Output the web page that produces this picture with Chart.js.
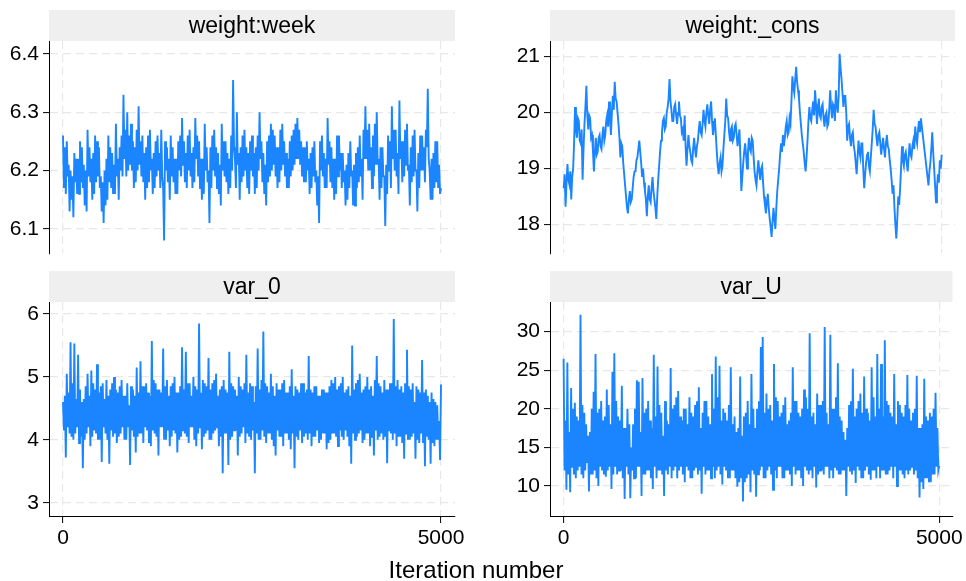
<!DOCTYPE html>
<html>
<head>
<meta charset="utf-8">
<script src="https://cdn.jsdelivr.net/npm/chart.js@4.4.1/dist/chart.umd.min.js"></script>
<style>
html, body { margin: 0; padding: 0; background: #fff; }
body { width: 966px; height: 581px; position: relative; overflow: hidden; font-family: "Liberation Sans", Arial, sans-serif; }
.panel { position: absolute; }
#xtitle { position: absolute; left: 0; width: 952px; top: 558px; text-align: center; font-size: 24px; line-height: 24px; color: #000; }
</style>
</head>
<body>
<div class="panel" style="left:0;top:0;width:480px;height:270px"><canvas id="c1"></canvas></div>
<div class="panel" style="left:500px;top:0;width:466px;height:270px"><canvas id="c2"></canvas></div>
<div class="panel" style="left:0;top:260px;width:480px;height:321px"><canvas id="c3"></canvas></div>
<div class="panel" style="left:500px;top:260px;width:466px;height:321px"><canvas id="c4"></canvas></div>
<div id="xtitle">Iteration number</div>
<script>
// MCMC trace values, evenly spaced over 5000 iterations
const lastIteration = 5000;
const xTicks = [0, 5000];

const weightWeek = [
    6.26, 6.17, 6.24, 6.16, 6.25, 6.19, 6.21, 6.13, 6.2, 6.15, 6.19, 6.12, 6.23, 6.18, 6.22, 6.16, 6.22, 6.16, 6.25, 6.18,
    6.24, 6.17, 6.21, 6.14, 6.2, 6.13, 6.27, 6.19, 6.24, 6.18, 6.22, 6.15, 6.23, 6.16, 6.26, 6.18, 6.25, 6.19, 6.24, 6.17,
    6.19, 6.13, 6.18, 6.11, 6.2, 6.14, 6.22, 6.15, 6.26, 6.18, 6.24, 6.17, 6.23, 6.16, 6.21, 6.16, 6.28, 6.19, 6.22, 6.15,
    6.24, 6.2, 6.26, 6.19, 6.33, 6.22, 6.27, 6.19, 6.3, 6.2, 6.26, 6.21, 6.28, 6.2, 6.25, 6.17, 6.24, 6.18, 6.27, 6.2,
    6.31, 6.21, 6.25, 6.19, 6.26, 6.18, 6.23, 6.15, 6.24, 6.17, 6.26, 6.18, 6.27, 6.2, 6.22, 6.16, 6.23, 6.17, 6.25, 6.19,
    6.26, 6.2, 6.23, 6.17, 6.27, 6.19, 6.17, 6.08, 6.25, 6.2, 6.24, 6.18, 6.22, 6.15, 6.26, 6.19, 6.24, 6.18, 6.22, 6.16,
    6.22, 6.16, 6.25, 6.2, 6.26, 6.19, 6.29, 6.21, 6.25, 6.18, 6.23, 6.17, 6.26, 6.2, 6.27, 6.19, 6.23, 6.17, 6.24, 6.18,
    6.29, 6.22, 6.26, 6.19, 6.25, 6.17, 6.22, 6.15, 6.22, 6.16, 6.28, 6.2, 6.24, 6.18, 6.2, 6.11, 6.24, 6.17, 6.26, 6.2,
    6.27, 6.19, 6.24, 6.17, 6.23, 6.16, 6.21, 6.14, 6.28, 6.2, 6.25, 6.19, 6.25, 6.18, 6.23, 6.16, 6.22, 6.17, 6.26, 6.2,
    6.355, 6.24, 6.22, 6.17, 6.3, 6.21, 6.23, 6.15, 6.24, 6.18, 6.26, 6.19, 6.27, 6.2, 6.24, 6.17, 6.23, 6.16, 6.25, 6.2,
    6.26, 6.19, 6.23, 6.16, 6.24, 6.17, 6.26, 6.2, 6.3, 6.22, 6.25, 6.18, 6.23, 6.16, 6.21, 6.14, 6.25, 6.18, 6.26, 6.19,
    6.28, 6.2, 6.27, 6.21, 6.26, 6.19, 6.24, 6.17, 6.24, 6.18, 6.27, 6.2, 6.28, 6.21, 6.25, 6.19, 6.23, 6.17, 6.22, 6.17,
    6.25, 6.19, 6.26, 6.2, 6.27, 6.21, 6.28, 6.22, 6.29, 6.22, 6.27, 6.21, 6.25, 6.19, 6.24, 6.18, 6.24, 6.18, 6.25, 6.2,
    6.22, 6.16, 6.23, 6.17, 6.24, 6.19, 6.25, 6.18, 6.2, 6.14, 6.19, 6.11, 6.25, 6.2, 6.26, 6.19, 6.23, 6.17, 6.22, 6.17,
    6.29, 6.21, 6.25, 6.18, 6.24, 6.17, 6.22, 6.15, 6.22, 6.16, 6.26, 6.19, 6.26, 6.2, 6.23, 6.17, 6.23, 6.18, 6.2, 6.14,
    6.21, 6.15, 6.23, 6.17, 6.25, 6.19, 6.2, 6.14, 6.21, 6.14, 6.23, 6.17, 6.24, 6.18, 6.26, 6.19, 6.22, 6.15, 6.27, 6.22,
    6.31, 6.22, 6.27, 6.2, 6.28, 6.2, 6.24, 6.17, 6.26, 6.19, 6.28, 6.21, 6.3, 6.21, 6.22, 6.15, 6.24, 6.17, 6.24, 6.19,
    6.19, 6.105, 6.21, 6.16, 6.26, 6.2, 6.25, 6.17, 6.31, 6.22, 6.27, 6.2, 6.27, 6.19, 6.23, 6.16, 6.32, 6.22, 6.25, 6.18,
    6.25, 6.19, 6.27, 6.21, 6.28, 6.2, 6.21, 6.14, 6.24, 6.18, 6.26, 6.19, 6.27, 6.2, 6.2, 6.13, 6.23, 6.17, 6.26, 6.2,
    6.26, 6.2, 6.24, 6.18, 6.27, 6.24, 6.34, 6.22, 6.2, 6.15, 6.22, 6.15, 6.23, 6.17, 6.25, 6.18, 6.25, 6.17, 6.21, 6.16, 6.17
];

const weightCons = [
    18.65, 18.9, 18.32, 18.75, 19.08, 18.8, 18.72, 18.95, 18.45, 18.85, 19.0, 19.45, 20.1, 19.7, 19.55, 19.9, 19.85, 19.5, 19.45, 19.7,
    18.8, 19.35, 19.8, 20.1, 20.48, 19.95, 19.7, 19.95, 19.9, 19.55, 19.6, 19.3, 18.95, 19.3, 19.55, 19.25, 19.3, 19.55, 19.6, 19.4,
    19.35, 19.6, 19.75, 19.5, 19.6, 19.85, 19.95, 19.75, 20.2, 19.9, 19.6, 20.0, 20.3, 20.05, 20.55, 20.25, 20.2, 20.0, 19.8, 19.55,
    19.2, 19.45, 19.4, 19.1, 18.9, 18.7, 18.5, 18.3, 18.2, 18.45, 18.6, 18.4, 18.45, 18.65, 18.85, 18.95, 18.95, 19.15, 19.2, 19.35,
    19.5, 19.3, 19.1, 18.85, 19.0, 18.75, 18.6, 18.45, 18.15, 18.5, 18.7, 18.45, 18.4, 18.65, 18.85, 18.6, 18.45, 18.3, 18.1, 18.5,
    18.8, 19.05, 19.3, 19.5, 19.65, 19.85, 19.9, 19.7, 19.75, 20.0, 20.1, 20.25, 20.6, 20.2, 20.05, 19.85, 19.85, 20.1, 20.15, 19.95,
    19.8, 20.0, 20.2, 19.95, 19.9, 19.65, 19.7, 19.5, 19.95, 19.4, 19.05, 19.35, 19.6, 19.4, 19.3, 19.15, 19.1, 19.35, 19.55, 19.35,
    19.2, 19.4, 19.5, 19.7, 19.85, 19.65, 19.6, 19.8, 20.05, 19.85, 19.75, 20.0, 20.15, 19.95, 19.8, 20.05, 20.2, 19.85, 19.6, 19.75,
    19.9, 19.6, 19.3, 19.05, 18.9, 19.1, 19.2, 18.95, 19.05, 19.35, 19.6, 19.85, 20.25, 19.95, 19.9, 19.65, 19.5, 19.7, 19.75, 19.5,
    19.55, 19.75, 19.8, 19.6, 19.4, 19.55, 19.7, 19.2, 18.6, 18.85, 19.1, 19.3, 19.45, 19.25, 19.0, 19.3, 19.55, 19.35, 19.3, 19.55,
    19.5, 19.2, 18.95, 18.8, 18.7, 18.95, 19.15, 18.95, 18.8, 19.0, 19.05, 18.75, 18.5, 18.35, 18.2, 18.4, 18.55, 18.3, 18.1, 17.95,
    17.78, 18.05, 18.3, 18.1, 17.92, 18.3, 18.6, 18.8, 19.0, 19.25, 19.45, 19.3, 19.6, 19.4, 19.55, 19.75, 19.85, 19.6, 19.65, 19.9,
    19.8, 20.2, 20.65, 20.45, 20.35, 20.6, 20.82, 20.55, 20.4, 20.25, 20.0, 19.8, 19.6, 19.45, 19.3, 19.1, 18.95, 19.2, 19.5, 19.85,
    20.1, 19.9, 19.85, 20.05, 20.2, 19.95, 20.4, 20.15, 19.8, 20.05, 20.25, 19.95, 19.9, 20.1, 20.15, 19.9, 19.75, 19.95, 20.0, 19.75,
    19.8, 20.05, 20.4, 20.1, 19.9, 20.15, 20.1, 19.85, 20.4, 20.15, 20.0, 20.3, 21.05, 20.8, 20.6, 20.35, 20.1, 20.3, 20.3, 20.0,
    19.5, 19.75, 19.8, 19.55, 19.4, 19.6, 19.65, 19.4, 19.3, 19.1, 18.9, 19.2, 19.5, 19.3, 19.2, 19.45, 19.45, 19.0, 18.65, 18.9,
    19.1, 19.25, 19.3, 19.05, 18.95, 19.2, 19.45, 19.7, 20.05, 19.8, 19.75, 19.55, 19.4, 19.6, 19.65, 19.45, 19.25, 19.4, 19.55, 19.35,
    19.2, 19.45, 19.6, 19.4, 19.35, 19.15, 19.0, 18.8, 18.55, 18.7, 18.3, 18.0, 17.75, 18.1, 18.5, 18.35, 18.65, 19.0, 19.4, 19.15,
    19.05, 19.25, 19.3, 19.1, 18.95, 19.2, 19.45, 19.25, 19.2, 19.4, 19.5, 19.35, 19.75, 19.55, 19.45, 19.7, 19.85, 19.65, 19.9, 19.75,
    19.6, 19.45, 19.3, 19.15, 19.0, 18.85, 18.7, 18.95, 19.1, 19.35, 19.65, 19.3, 19.0, 18.7, 18.4, 18.65, 18.9, 18.75, 19.15, 19.0, 19.25
];

const var0 = [
    4.6, 4.15, 4.7, 3.72, 5.05, 4.2, 4.75, 4.1, 5.55, 4.05, 4.9, 4.0, 5.53, 4.1, 4.65, 4.2, 5.35, 3.95, 4.8, 4.05,
    4.6, 3.55, 4.65, 4.0, 4.85, 4.1, 5.05, 4.2, 4.7, 3.9, 5.1, 4.05, 4.9, 4.15, 4.8, 4.1, 5.2, 4.0, 4.75, 4.0,
    4.85, 3.65, 4.9, 4.2, 4.65, 4.1, 4.95, 4.0, 4.7, 3.62, 4.8, 4.15, 4.9, 4.05, 5.0, 4.1, 4.8, 3.95, 4.75, 4.05,
    4.85, 4.1, 4.95, 4.2, 4.7, 4.0, 4.7, 4.0, 4.9, 4.2, 4.55, 3.6, 4.85, 4.15, 4.8, 4.05, 4.7, 3.8, 5.15, 4.05,
    4.75, 4.1, 5.25, 4.1, 4.85, 3.95, 4.85, 4.2, 4.9, 4.15, 4.75, 3.95, 4.7, 3.9, 5.57, 4.15, 4.95, 4.1, 4.9, 4.05,
    4.8, 3.75, 4.8, 4.2, 4.75, 4.2, 5.45, 4.0, 4.85, 4.0, 4.95, 4.15, 4.7, 3.9, 4.85, 4.05, 4.9, 4.15, 5.0, 4.1,
    4.75, 3.8, 4.75, 4.0, 4.85, 4.05, 5.47, 4.15, 4.8, 4.1, 5.4, 4.05, 4.9, 3.95, 4.9, 4.2, 4.7, 4.2, 5.0, 4.0,
    4.85, 3.9, 4.8, 4.1, 5.85, 4.2, 4.75, 3.85, 4.95, 4.05, 4.9, 4.1, 4.85, 4.15, 5.3, 4.0, 4.8, 4.0, 4.9, 4.1,
    4.95, 4.15, 5.05, 4.2, 4.7, 3.9, 4.8, 4.05, 4.85, 3.47, 4.95, 4.1, 4.8, 4.1, 4.75, 3.6, 5.4, 4.0, 4.9, 4.05,
    4.85, 4.15, 4.8, 4.15, 4.7, 3.75, 5.0, 4.05, 4.85, 4.1, 4.8, 4.2, 4.9, 3.95, 5.35, 4.1, 4.75, 4.05, 4.9, 4.0,
    4.85, 4.15, 4.6, 3.47, 4.85, 4.1, 5.45, 4.0, 4.8, 4.0, 4.95, 4.15, 5.72, 4.05, 4.9, 3.95, 4.85, 4.1, 4.75, 4.1,
    5.05, 4.0, 4.85, 3.9, 4.7, 3.75, 4.9, 4.15, 4.8, 4.05, 4.8, 4.05, 4.9, 3.9, 4.95, 4.1, 4.75, 4.1, 4.75, 4.0,
    4.85, 3.85, 5.12, 4.1, 4.7, 3.55, 4.85, 4.05, 4.8, 4.0, 4.75, 4.15, 4.9, 3.95, 4.9, 4.05, 4.75, 4.1, 4.8, 4.0,
    5.33, 4.1, 4.8, 3.9, 4.75, 4.05, 4.85, 4.05, 4.85, 4.15, 4.7, 3.95, 4.7, 4.0, 4.8, 4.1, 4.8, 4.1, 4.75, 3.85,
    4.75, 3.95, 4.85, 4.0, 4.95, 4.1, 4.9, 4.1, 5.0, 4.05, 4.8, 3.9, 4.85, 4.15, 4.9, 4.05, 5.0, 4.0, 4.75, 4.15,
    4.8, 4.05, 4.85, 3.9, 4.7, 3.62, 5.5, 4.1, 4.8, 4.0, 4.9, 4.05, 4.95, 4.1, 5.05, 4.15, 4.75, 3.95, 4.8, 4.0,
    4.85, 4.1, 5.0, 4.1, 4.8, 3.9, 4.85, 4.05, 4.7, 3.75, 4.95, 4.15, 5.33, 4.0, 4.9, 4.05, 4.85, 4.1, 4.75, 4.0,
    4.95, 4.05, 4.8, 3.63, 4.8, 4.15, 4.9, 4.1, 4.9, 4.0, 5.92, 4.1, 4.85, 3.9, 4.95, 4.05, 4.8, 4.05, 4.85, 3.95,
    4.75, 3.7, 4.9, 4.1, 5.43, 4.0, 4.85, 4.0, 4.8, 4.05, 4.9, 4.1, 4.6, 3.7, 4.85, 4.0, 4.8, 3.95, 4.75, 4.1,
    5.27, 3.95, 4.75, 3.58, 4.8, 4.05, 4.7, 4.0, 4.6, 3.62, 4.75, 3.95, 4.65, 3.9, 4.6, 4.0, 4.55, 4.0, 4.3, 3.68, 4.88
];

const varU = [
    26.5, 12.0, 18.5, 9.5, 26.0, 11.5, 17.0, 9.2, 22.7, 12.5, 20.0, 11.5, 20.8, 11.0, 19.0, 12.0, 18.5, 12.5, 32.2, 11.5,
    20.5, 11.0, 19.5, 12.0, 18.0, 13.0, 16.5, 9.3, 17.0, 11.5, 20.0, 11.5, 22.2, 12.0, 27.1, 11.0, 19.5, 10.0, 20.0, 12.5,
    21.0, 12.0, 18.5, 11.5, 19.0, 11.2, 22.5, 12.0, 20.5, 12.5, 18.0, 9.6, 24.8, 11.5, 27.2, 12.5, 21.0, 11.5, 19.0, 12.0,
    18.5, 12.0, 23.0, 11.0, 17.5, 8.3, 17.5, 12.5, 20.0, 11.5, 18.0, 8.4, 15.0, 12.0, 18.0, 11.0, 20.0, 11.0, 23.7, 12.5,
    23.5, 12.5, 17.0, 8.7, 24.0, 11.5, 19.5, 11.5, 20.0, 12.0, 21.0, 12.0, 18.5, 11.0, 17.5, 9.6, 27.0, 12.5, 19.0, 11.0,
    25.5, 12.0, 20.5, 12.0, 19.5, 11.5, 16.5, 8.7, 21.0, 12.0, 18.5, 11.5, 18.0, 12.5, 25.3, 11.0, 20.0, 12.0, 20.5, 12.5,
    21.5, 11.0, 22.3, 12.0, 19.0, 12.5, 18.5, 11.5, 20.0, 10.5, 20.0, 12.5, 18.0, 12.0, 21.5, 11.0, 19.5, 11.0, 19.0, 12.0,
    20.5, 12.5, 21.0, 11.5, 22.8, 12.0, 17.5, 9.0, 19.5, 12.5, 21.0, 11.5, 21.0, 12.0, 19.0, 12.0, 18.0, 11.0, 24.5, 12.5,
    20.0, 11.0, 26.8, 12.0, 21.5, 12.5, 25.6, 11.5, 18.5, 10.2, 20.0, 12.5, 19.5, 12.0, 18.5, 11.0, 20.5, 11.0, 25.4, 12.0,
    18.0, 12.0, 19.0, 11.0, 17.0, 9.9, 17.5, 10.5, 24.2, 11.0, 16.5, 8.0, 19.0, 10.5, 19.5, 11.0, 21.0, 11.5, 18.0, 9.2,
    24.5, 12.0, 20.0, 11.5, 17.5, 8.6, 20.0, 11.5, 21.0, 12.0, 28.0, 12.5, 29.3, 11.0, 19.5, 11.0, 22.0, 12.0, 20.0, 12.5,
    20.5, 11.5, 18.5, 9.5, 25.8, 12.0, 21.5, 11.0, 21.0, 12.5, 19.0, 12.5, 19.5, 11.0, 20.5, 11.0, 21.5, 12.0, 18.0, 12.0,
    18.5, 11.5, 19.5, 10.0, 25.4, 12.5, 21.0, 11.5, 21.0, 12.0, 19.5, 12.0, 19.0, 11.0, 20.0, 10.0, 22.5, 12.5, 21.5, 12.0,
    20.0, 11.5, 29.8, 12.0, 19.0, 11.0, 19.5, 12.5, 18.0, 9.8, 22.0, 11.5, 20.5, 12.0, 20.5, 12.0, 21.0, 11.5, 30.6, 12.5,
    19.5, 12.5, 18.0, 11.0, 29.6, 12.0, 20.0, 11.0, 20.0, 12.5, 21.5, 12.0, 25.9, 11.5, 19.0, 11.5, 18.5, 12.0, 17.0, 12.0,
    16.0, 8.7, 17.5, 12.5, 20.5, 12.0, 21.0, 11.5, 25.2, 12.0, 19.0, 10.4, 20.0, 12.5, 21.0, 12.0, 22.0, 11.0, 19.5, 11.0,
    24.2, 12.0, 20.0, 12.5, 19.5, 11.5, 18.5, 10.8, 25.4, 12.0, 21.5, 12.0, 19.0, 11.0, 27.1, 12.5, 20.0, 11.0, 25.8, 12.0,
    19.0, 12.0, 28.9, 11.5, 21.0, 11.5, 20.5, 12.0, 19.5, 12.5, 19.0, 11.0, 24.5, 12.5, 18.0, 10.0, 21.0, 12.0, 20.5, 12.0,
    19.5, 11.5, 19.0, 11.0, 20.5, 12.0, 24.4, 11.5, 20.0, 12.0, 18.5, 12.5, 19.5, 11.5, 20.0, 12.0, 24.3, 11.0, 17.5, 8.5,
    17.5, 10.5, 18.0, 9.6, 23.9, 11.0, 19.0, 11.0, 18.5, 10.5, 19.5, 10.5, 19.0, 11.5, 20.0, 11.5, 22.1, 12.5, 17.5, 12.0, 12.6
];

const weekTicks = [6.1, 6.2, 6.3, 6.4];
const consTicks = [18, 19, 20, 21];
const var0Ticks = [3, 4, 5, 6];
const varUTicks = [10, 15, 20, 25, 30];

const FONT = '"Liberation Sans", Arial, Helvetica, sans-serif';
const LINE = 'rgb(26, 133, 255)';
const GRID = '#e8e8e8';

Chart.defaults.color = '#000';
Chart.defaults.font.family = FONT;

// grey title strip above each plot region
const stripPlugin = {
    id: 'strip',
    beforeDraw(chart, args, opts) {
        const { ctx, chartArea: a } = chart;
        ctx.save();
        ctx.fillStyle = '#efefef';
        ctx.fillRect(a.left, a.top - 31, a.right - a.left, 31);
        ctx.fillStyle = '#000';
        ctx.font = '23px ' + FONT;
        ctx.textAlign = 'center';
        ctx.textBaseline = 'alphabetic';
        ctx.fillText(opts.text, (a.left + a.right) / 2, a.top - 8);
        ctx.restore();
    }
};

function makeTrace(id, title, values, yTicks, yMin, yMax, xMin, xMax, showX, yWidth, padding) {
    const step = lastIteration / (values.length - 1);
    const points = values.map((v, i) => ({ x: i * step, y: v }));
    return new Chart(document.getElementById(id), {
        type: 'line',
        data: {
            datasets: [{
                data: points,
                borderColor: LINE,
                borderWidth: 1.9,
                pointRadius: 0,
                tension: 0,
                fill: false
            }]
        },
        options: {
            responsive: true,
            maintainAspectRatio: false,
            animation: false,
            layout: { padding: padding },
            plugins: {
                legend: { display: false },
                tooltip: { enabled: false },
                strip: { text: title }
            },
            scales: {
                x: {
                    type: 'linear',
                    min: xMin,
                    max: xMax,
                    afterBuildTicks: s => { s.ticks = xTicks.map(v => ({ value: v })); },
                    afterFit: s => { s.height = showX ? 40 : 0; },
                    ticks: {
                        display: showX,
                        color: '#000',
                        font: { size: 21 },
                        padding: 3,
                        maxRotation: 0,
                        autoSkip: false,
                        callback: v => String(v)
                    },
                    grid: {
                        color: GRID,
                        lineWidth: 1.2,
                        drawTicks: showX,
                        tickLength: 7,
                        tickColor: '#000',
                        tickWidth: 1,
                        tickBorderDash: []
                    },
                    border: { display: showX, color: '#000', width: 1, dash: [8, 5] }
                },
                y: {
                    min: yMin,
                    max: yMax,
                    afterBuildTicks: s => { s.ticks = yTicks.map(v => ({ value: v })); },
                    afterFit: s => { s.width = yWidth; },
                    ticks: {
                        color: '#000',
                        font: { size: 21 },
                        padding: 4,
                        callback: v => String(v)
                    },
                    grid: {
                        color: GRID,
                        lineWidth: 1.2,
                        tickLength: 6,
                        tickColor: '#000',
                        tickWidth: 1,
                        tickBorderDash: []
                    },
                    border: { display: true, color: '#000', width: 1, dash: [8, 5] }
                }
            }
        },
        plugins: [stripPlugin]
    });
}

makeTrace('c1', 'weight:week', weightWeek, weekTicks, 6.058, 6.422, -185, 5185, false, 49,
    { top: 41, right: 25, bottom: 15, left: 0 });
makeTrace('c2', 'weight:_cons', weightCons, consTicks, 17.485, 21.28, -181, 5176, false, 50,
    { top: 41, right: 11, bottom: 15, left: 0 });
makeTrace('c3', 'var_0', var0, var0Ticks, 2.79, 6.19, -185, 5185, true, 49,
    { top: 42, right: 25, bottom: 25, left: 0 });
makeTrace('c4', 'var_U', varU, varUTicks, 6.11, 33.85, -181, 5176, true, 50,
    { top: 42, right: 11, bottom: 25, left: 0 });
</script>
</body>
</html>
